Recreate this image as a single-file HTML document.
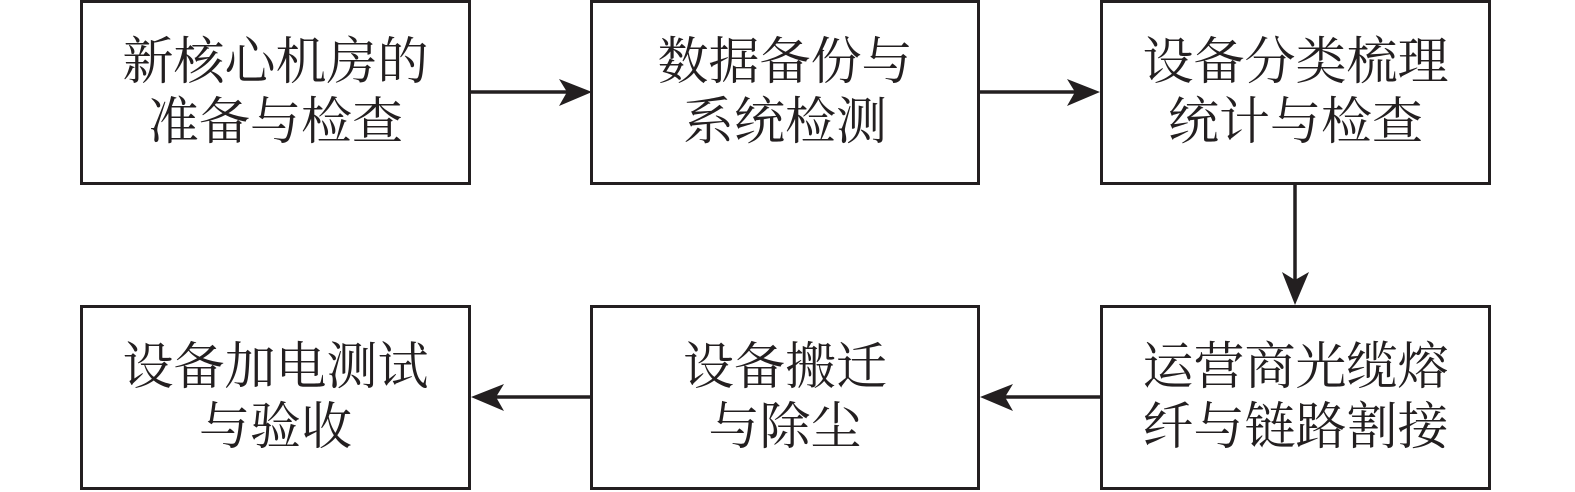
<!DOCTYPE html>
<html><head><meta charset="utf-8"><style>
html,body{margin:0;padding:0;background:#fff;}
body{width:1575px;height:492px;position:relative;overflow:hidden;}
.b{position:absolute;box-sizing:border-box;border:3.5px solid #231f20;display:flex;align-items:center;justify-content:center;text-align:center;font-family:"Liberation Serif","Noto Serif CJK SC",serif;font-size:51px;line-height:60px;color:#231f20;}
svg{position:absolute;left:0;top:0;}
</style></head><body>
<div class="b" style="left:80px;top:0;width:391px;height:185px">新核心机房的<br>准备与检查</div>
<div class="b" style="left:590px;top:0;width:390px;height:185px">数据备份与<br>系统检测</div>
<div class="b" style="left:1100px;top:0;width:391px;height:185px">设备分类梳理<br>统计与检查</div>
<div class="b" style="left:80px;top:305px;width:391px;height:185px">设备加电测试<br>与验收</div>
<div class="b" style="left:590px;top:305px;width:390px;height:185px">设备搬迁<br>与除尘</div>
<div class="b" style="left:1100px;top:305px;width:391px;height:185px">运营商光缆熔<br>纤与链路割接</div>
<svg width="1575" height="492">
<g stroke="#231f20" stroke-width="3.5" fill="none">
<line x1="471" y1="92" x2="570" y2="92"/>
<line x1="980" y1="92" x2="1080" y2="92"/>
<line x1="1295" y1="185" x2="1295" y2="285"/>
<line x1="1100" y1="397" x2="1000" y2="397"/>
<line x1="590" y1="397" x2="490" y2="397"/>
</g>
<g fill="#231f20">
<path d="M592,92 L559,79 L567,92 L559,106 Z"/>
<path d="M1100,92 L1067,79 L1075,92 L1067,106 Z"/>
<path d="M1295,305 L1282,272 L1295,280 L1309,272 Z"/>
<path d="M980,397 L1013,384 L1005,397 L1013,411 Z"/>
<path d="M471,397 L504,384 L496,397 L504,411 Z"/>
</g>
</svg>
</body></html>
